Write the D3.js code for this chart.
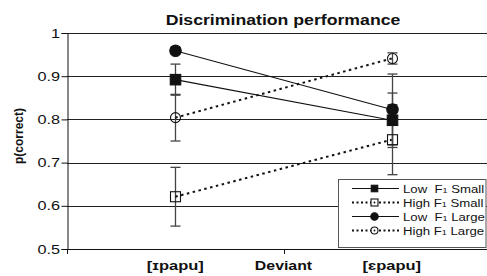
<!DOCTYPE html>
<html><head><meta charset="utf-8">
<script src="https://cdn.jsdelivr.net/npm/d3@7"></script>
<style>body{margin:0;background:#fff}svg{display:block;font-family:"Liberation Sans",Arial,sans-serif}</style>
</head><body>
<svg id="c" width="487" height="276"></svg>
<script>
const categories = ["[ɪpapu]", "[ɛpapu]"];
const seriesNames = ["Low", "High", "Low", "High"];
const seriesSizes = ["Small", "Small", "Large", "Large"];
const lowSmall = [0.892, 0.798];
const highSmall = [0.621, 0.753];
const lowLarge = [0.959, 0.823];
const highLarge = [0.804, 0.941];
const errLowSmall = [0.036, 0.063];
const errHighSmall = [0.068, 0.081];
const errLowLarge = [0.008, 0.082];
const errHighLarge = [0.054, 0.013];
const yTicks = [0.5, 0.6, 0.7, 0.8, 0.9, 1];
const title = "Discrimination performance";
const yTitle = "p(correct)";
const xTitle = "Deviant";

const svg = d3.select("#c");
const W = 487, H = 276;
const mLeft = 67, mTop = 33, mBottom = 249, rightEdge = 500;
const SX = 1.25; // horizontal stretch of the original typography

const x = d3.scaleBand().domain(categories).range([mLeft, rightEdge]).padding(0);
const y = d3.scaleLinear().domain([0.5, 1]).range([mBottom, mTop]);
const cx = c => x(c) + x.bandwidth() / 2;

function stretchedText(g, tx, ty, str, size, weight, anchor, sx) {
  return g.append("text").attr("transform", `translate(${tx},${ty}) scale(${sx},1)`)
    .attr("text-anchor", anchor).attr("font-size", size).attr("font-weight", weight)
    .attr("fill", "#111").text(str);
}

// gridlines
svg.append("g").selectAll("line").data(yTicks.filter(d => d > 0.5)).join("line")
  .attr("x1", mLeft).attr("x2", W).attr("y1", d => Math.round(y(d)) + 0.5).attr("y2", d => Math.round(y(d)) + 0.5)
  .attr("stroke", "#222").attr("stroke-width", 1);

// y axis
const yAxis = d3.axisLeft(y).tickValues(yTicks).tickFormat(d => d === 1 ? "1" : d3.format(".1f")(d)).tickSize(6).tickPadding(2);
const gy = svg.append("g").attr("transform", `translate(${mLeft + 0.5},0)`).call(yAxis);
gy.select(".domain").attr("stroke", "#111");
gy.selectAll(".tick line").attr("stroke", "#111");
gy.selectAll(".tick text").attr("font-size", 13).attr("fill", "#111")
  .attr("font-family", "Liberation Sans, Arial, sans-serif")
  .attr("x", -7.5 / SX).attr("transform", `scale(${SX},1)`);

// x axis
svg.append("line").attr("x1", mLeft).attr("x2", W).attr("y1", mBottom + 0.5).attr("y2", mBottom + 0.5).attr("stroke", "#111");
const boundaries = [mLeft, mLeft + x.bandwidth(), rightEdge];
svg.append("g").selectAll("line").data(boundaries).join("line")
  .attr("x1", d => Math.round(d) + 0.5).attr("x2", d => Math.round(d) + 0.5)
  .attr("y1", mBottom).attr("y2", mBottom + 5).attr("stroke", "#111");
const xl = svg.append("g");
categories.forEach(c => stretchedText(xl, cx(c), 270, c, 13, "bold", "middle", 1.27));
stretchedText(svg, mLeft + x.bandwidth(), 270, xTitle, 12.5, "bold", "middle", 1.27);

// titles
stretchedText(svg, 283, 25, title, 14.5, "bold", "middle", 1.22);
svg.append("text").attr("transform", "translate(23,136) rotate(-90)").attr("text-anchor", "middle")
  .attr("font-size", 12).attr("font-weight", "bold").attr("fill", "#111").text(yTitle);

const series = [
  {vals: lowSmall, err: errLowSmall, dash: null, marker: "square", fill: true},
  {vals: highSmall, err: errHighSmall, dash: "2.5,3.5", marker: "square", fill: false},
  {vals: lowLarge, err: errLowLarge, dash: null, marker: "circle", fill: true},
  {vals: highLarge, err: errHighLarge, dash: "2.5,3.5", marker: "circle", fill: false}
];

// error bars
const eg = svg.append("g");
series.forEach(s => {
  categories.forEach((c, i) => {
    const px = Math.round(cx(c)) + 0.5;
    const y1 = y(s.vals[i] + s.err[i]), y2 = y(s.vals[i] - s.err[i]);
    eg.append("line").attr("x1", px).attr("x2", px).attr("y1", y1).attr("y2", y2).attr("stroke", "#444").attr("stroke-width", 1.3);
    [y1, y2].forEach(yy => eg.append("line").attr("x1", px - 5).attr("x2", px + 5).attr("y1", yy).attr("y2", yy).attr("stroke", "#444").attr("stroke-width", 1.3));
  });
});

// lines
const line = d3.line().x((d, i) => cx(categories[i])).y(d => y(d));
series.forEach(s => {
  svg.append("path").datum(s.vals).attr("d", line).attr("fill", "none")
    .attr("stroke", "#111").attr("stroke-width", s.dash ? 2 : 1.1)
    .attr("stroke-dasharray", s.dash);
});

// markers
function marker(g, m, fill, px, py, size) {
  if (m === "square") {
    g.append("rect").attr("x", px - size / 2).attr("y", py - size / 2).attr("width", size).attr("height", size)
      .attr("fill", fill ? "#111" : "none").attr("stroke", "#111").attr("stroke-width", 1.1);
  } else {
    g.append("circle").attr("cx", px).attr("cy", py).attr("r", size / 2 + (fill ? 0.5 : 0))
      .attr("fill", fill ? "#111" : "none").attr("stroke", "#111").attr("stroke-width", 1.1);
  }
}
const mg = svg.append("g");
series.forEach(s => {
  categories.forEach((c, i) => marker(mg, s.marker, s.fill, Math.round(cx(c)) + 0.5, y(s.vals[i]), s.fill ? 10.5 : 10));
});

// legend
const lg = svg.append("g");
lg.append("rect").attr("x", 338.5).attr("y", 179.5).attr("width", 147.5).attr("height", 68)
  .attr("fill", "#fff").attr("stroke", "#555").attr("stroke-width", 1);
series.forEach((s, i) => {
  const ly = 188.5 + i * 14;
  lg.append("line").attr("x1", 352).attr("x2", 399).attr("y1", ly).attr("y2", ly)
    .attr("stroke", "#111").attr("stroke-width", s.dash ? 2 : 1.1).attr("stroke-dasharray", s.dash ? "2,2.5" : null);
  if (!s.fill) {
    lg.append(s.marker === "square" ? "rect" : "circle")
      .attr("x", 371).attr("y", ly - 3.5).attr("width", 7).attr("height", 7)
      .attr("cx", 374.5).attr("cy", ly).attr("r", 3.5)
      .attr("fill", "#fff").attr("stroke", "#111").attr("stroke-width", 1.1);
    lg.append("circle").attr("cx", 374.5).attr("cy", ly).attr("r", 0.9).attr("fill", "#111");
  } else {
    marker(lg, s.marker, true, 374.5, ly, 6.5);
  }
  const t = lg.append("text").attr("transform", `translate(403,${ly + 4}) scale(1.2,1)`)
    .attr("font-size", 11).attr("fill", "#111").attr("xml:space", "preserve");
  t.append("tspan").text(seriesNames[i] + (seriesNames[i] === "Low" ? "  F" : " F"));
  t.append("tspan").attr("font-size", 7.5).text("1");
  t.append("tspan").text(" " + seriesSizes[i]);
});
</script>
</body></html>
